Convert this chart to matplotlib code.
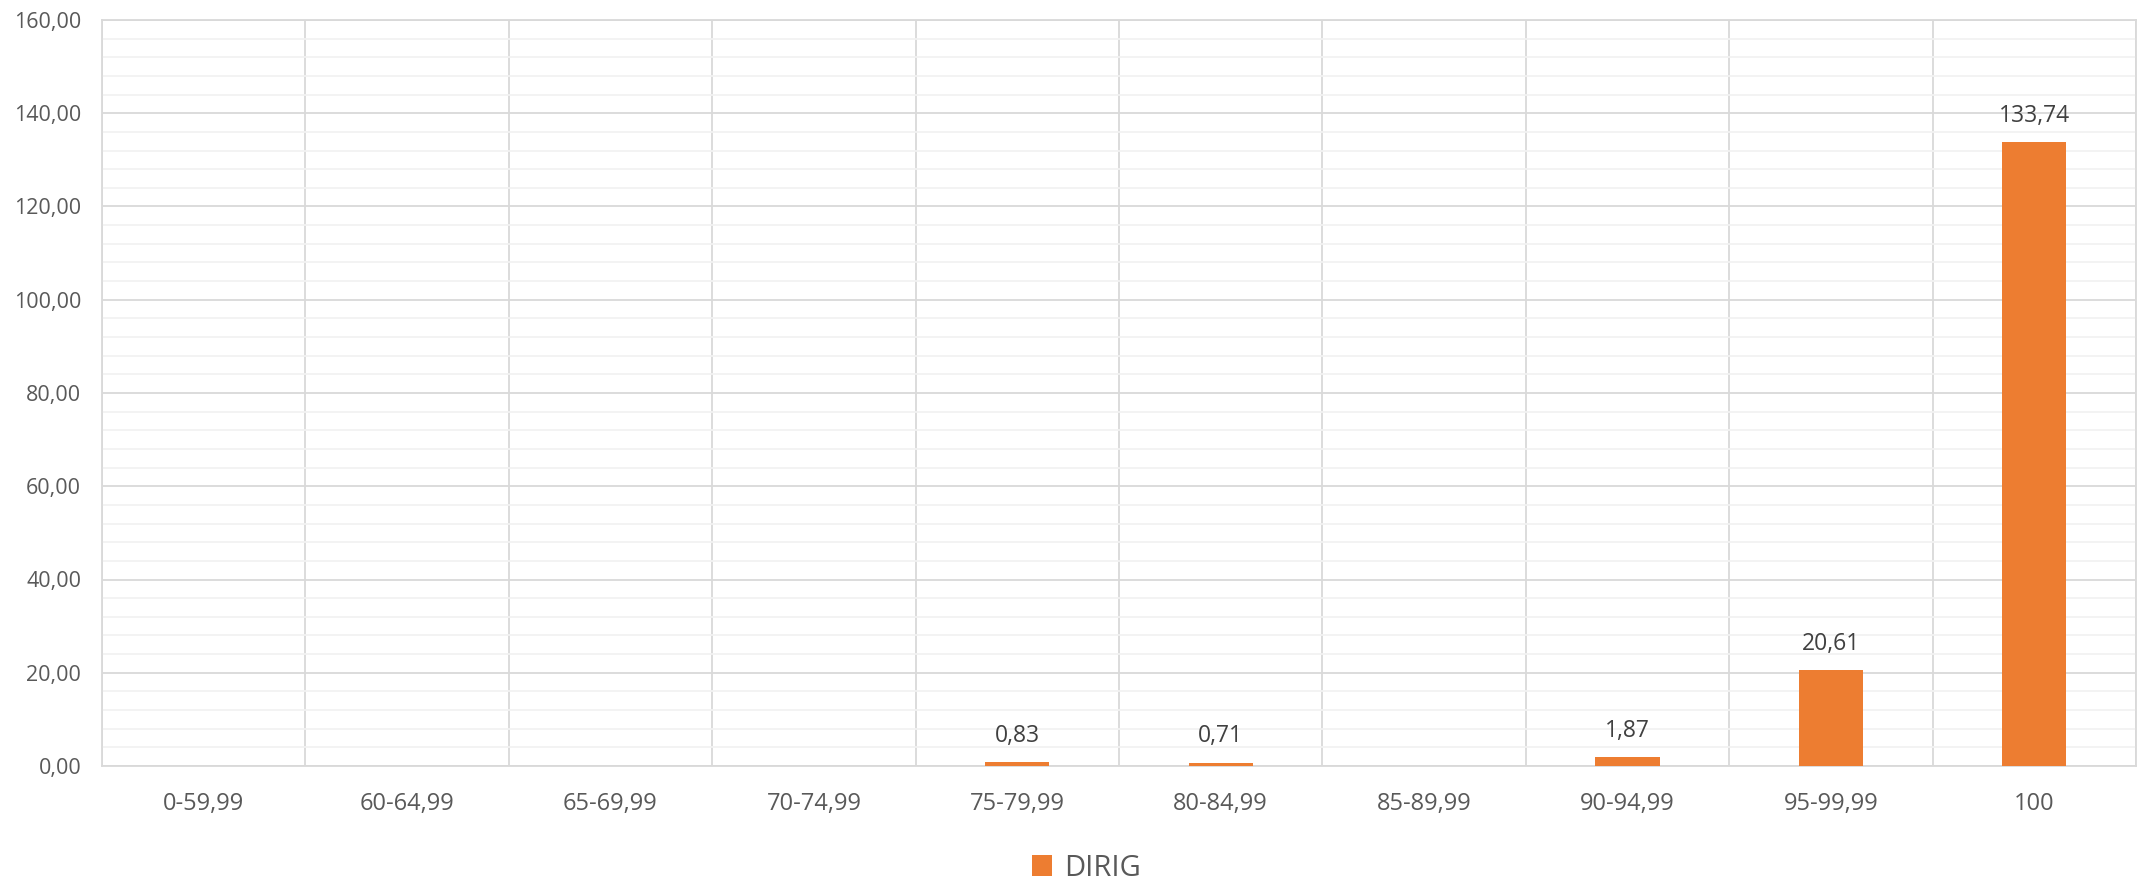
import numpy as np
import matplotlib.pyplot as plt
from matplotlib.ticker import MultipleLocator, FuncFormatter

# --- Data ---
categories = ['0-59,99', '60-64,99', '65-69,99', '70-74,99', '75-79,99',
              '80-84,99', '85-89,99', '90-94,99', '95-99,99', '100']
dirig = [np.nan, np.nan, np.nan, np.nan, 0.83, 0.71, np.nan, 1.87, 20.61, 133.74]

plt.rcParams['font.family'] = ['Open Sans', 'DejaVu Sans']
text_color = '#595959'
bar_color = '#ED7D31'

fig = plt.figure(figsize=(21.54, 8.84), dpi=100)
ax = fig.add_axes([102 / 2154, 1 - 766 / 884, (2136 - 102) / 2154, (766 - 20) / 884])

x = np.arange(len(categories))
bars = ax.bar(x, dirig, width=0.315, color=bar_color, label='DIRIG', zorder=3)

# --- Data labels ---
for xi, v in zip(x, dirig):
    if np.isnan(v):
        continue
    ax.annotate(f"{v:.2f}".replace('.', ','), (xi, v), xytext=(0, 19),
                textcoords='offset points', ha='center', va='center',
                fontsize=16.5, color='#404040')

# --- Axes ---
ax.set_xlim(-0.5, len(categories) - 0.5)
ax.set_ylim(0, 160)
ax.yaxis.set_major_locator(MultipleLocator(20))
ax.yaxis.set_minor_locator(MultipleLocator(4))
ax.yaxis.set_major_formatter(FuncFormatter(lambda v, p: f"{v:.2f}".replace('.', ',')))
ax.set_xticks(x)
ax.set_xticklabels(categories)
ax.set_xticks(np.arange(-0.5, len(categories)), minor=True)

ax.grid(axis='y', which='major', color='#D9D9D9', linewidth=1.3, zorder=1)
ax.grid(axis='y', which='minor', color='#F2F2F2', linewidth=1.3, zorder=0)
ax.grid(axis='x', which='minor', color='#D9D9D9', linewidth=1.3, zorder=1)
ax.grid(axis='x', which='major', visible=False)

for side in ['top', 'right', 'left', 'bottom']:
    ax.spines[side].set_color('#D9D9D9')
    ax.spines[side].set_linewidth(1.3)

ax.tick_params(axis='both', which='both', length=0)
ax.tick_params(axis='y', labelsize=15.5, colors=text_color, pad=15)
ax.tick_params(axis='x', labelsize=17, colors=text_color, pad=19)

leg = fig.legend(handles=[bars], labels=['DIRIG'], loc='center',
                 bbox_to_anchor=(1086 / 2154, 1 - 868 / 884), frameon=False,
                 fontsize=21, handlelength=0.7, handleheight=0.7, handletextpad=0.4,
                 labelcolor=text_color)

fig.savefig('out.png', dpi=100)
